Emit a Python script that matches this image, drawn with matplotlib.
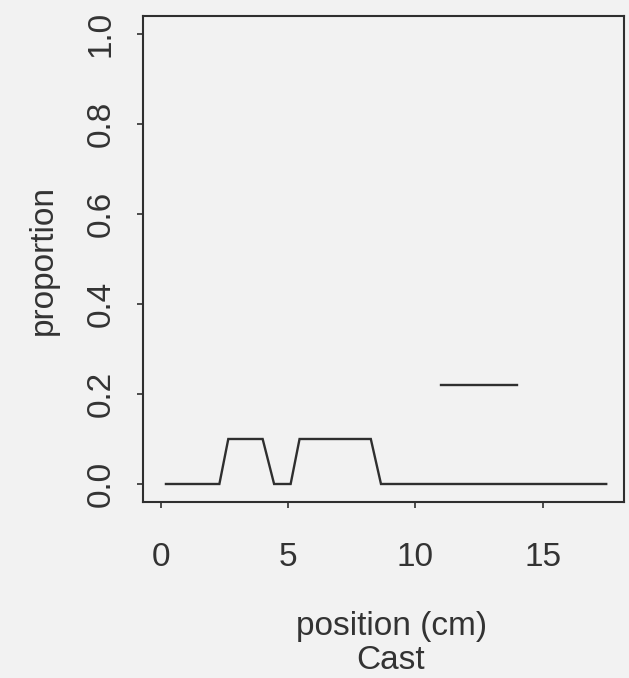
import matplotlib
matplotlib.use("Agg")
import matplotlib.pyplot as plt

# proportion along the cast
pos_main = [0.2, 2.3, 2.65, 4.0, 4.45, 5.1, 5.45, 8.25, 8.65, 17.5]
prop_main = [0.0, 0.0, 0.10, 0.10, 0.0, 0.0, 0.10, 0.10, 0.0, 0.0]

pos_seg = [11.0, 14.0]
prop_seg = [0.22, 0.22]

x_ticks = [0, 5, 10, 15]
y_ticks = [0.0, 0.2, 0.4, 0.6, 0.8, 1.0]

plt.rcParams["font.family"] = ["Liberation Sans", "DejaVu Sans"]
ink = "#2f2f2f"
paper = "#f2f2f2"

fig = plt.figure(figsize=(6.29, 6.78), dpi=100, facecolor=paper)
ax = fig.add_axes([0.2274, 0.2596, 0.7647, 0.7168], facecolor=paper)

ax.plot(pos_main, prop_main, color=ink, lw=1.7, solid_joinstyle="miter")
ax.plot(pos_seg, prop_seg, color=ink, lw=1.7)

ax.set_xlim(-0.7, 18.2)
ax.set_ylim(-0.04, 1.04)
ax.set_xticks(x_ticks)
ax.set_xticklabels([str(v) for v in x_ticks])
ax.set_yticks(y_ticks)
ax.set_yticklabels([f"{v:.1f}" for v in y_ticks], rotation=90, va="center")

for s in ax.spines.values():
    s.set_color(ink)
    s.set_linewidth(1.5)

ax.tick_params(axis="both", direction="out", length=4, width=1.2,
               colors=ink, labelsize=24, labelcolor="#333333")
ax.tick_params(axis="x", pad=25)
ax.tick_params(axis="y", pad=15)

fig.text(43 / 629, 1 - 260 / 678, "proportion", rotation=90,
         ha="center", va="center", fontsize=24, color="#333333")
fig.text(392 / 629, 1 - 635 / 678, "position (cm)", ha="center",
         va="baseline", fontsize=24, color="#333333")
fig.text(391 / 629, 1 - 669 / 678, "Cast", ha="center",
         va="baseline", fontsize=24, color="#333333")

fig.savefig("out.png", dpi=100, facecolor=paper)
